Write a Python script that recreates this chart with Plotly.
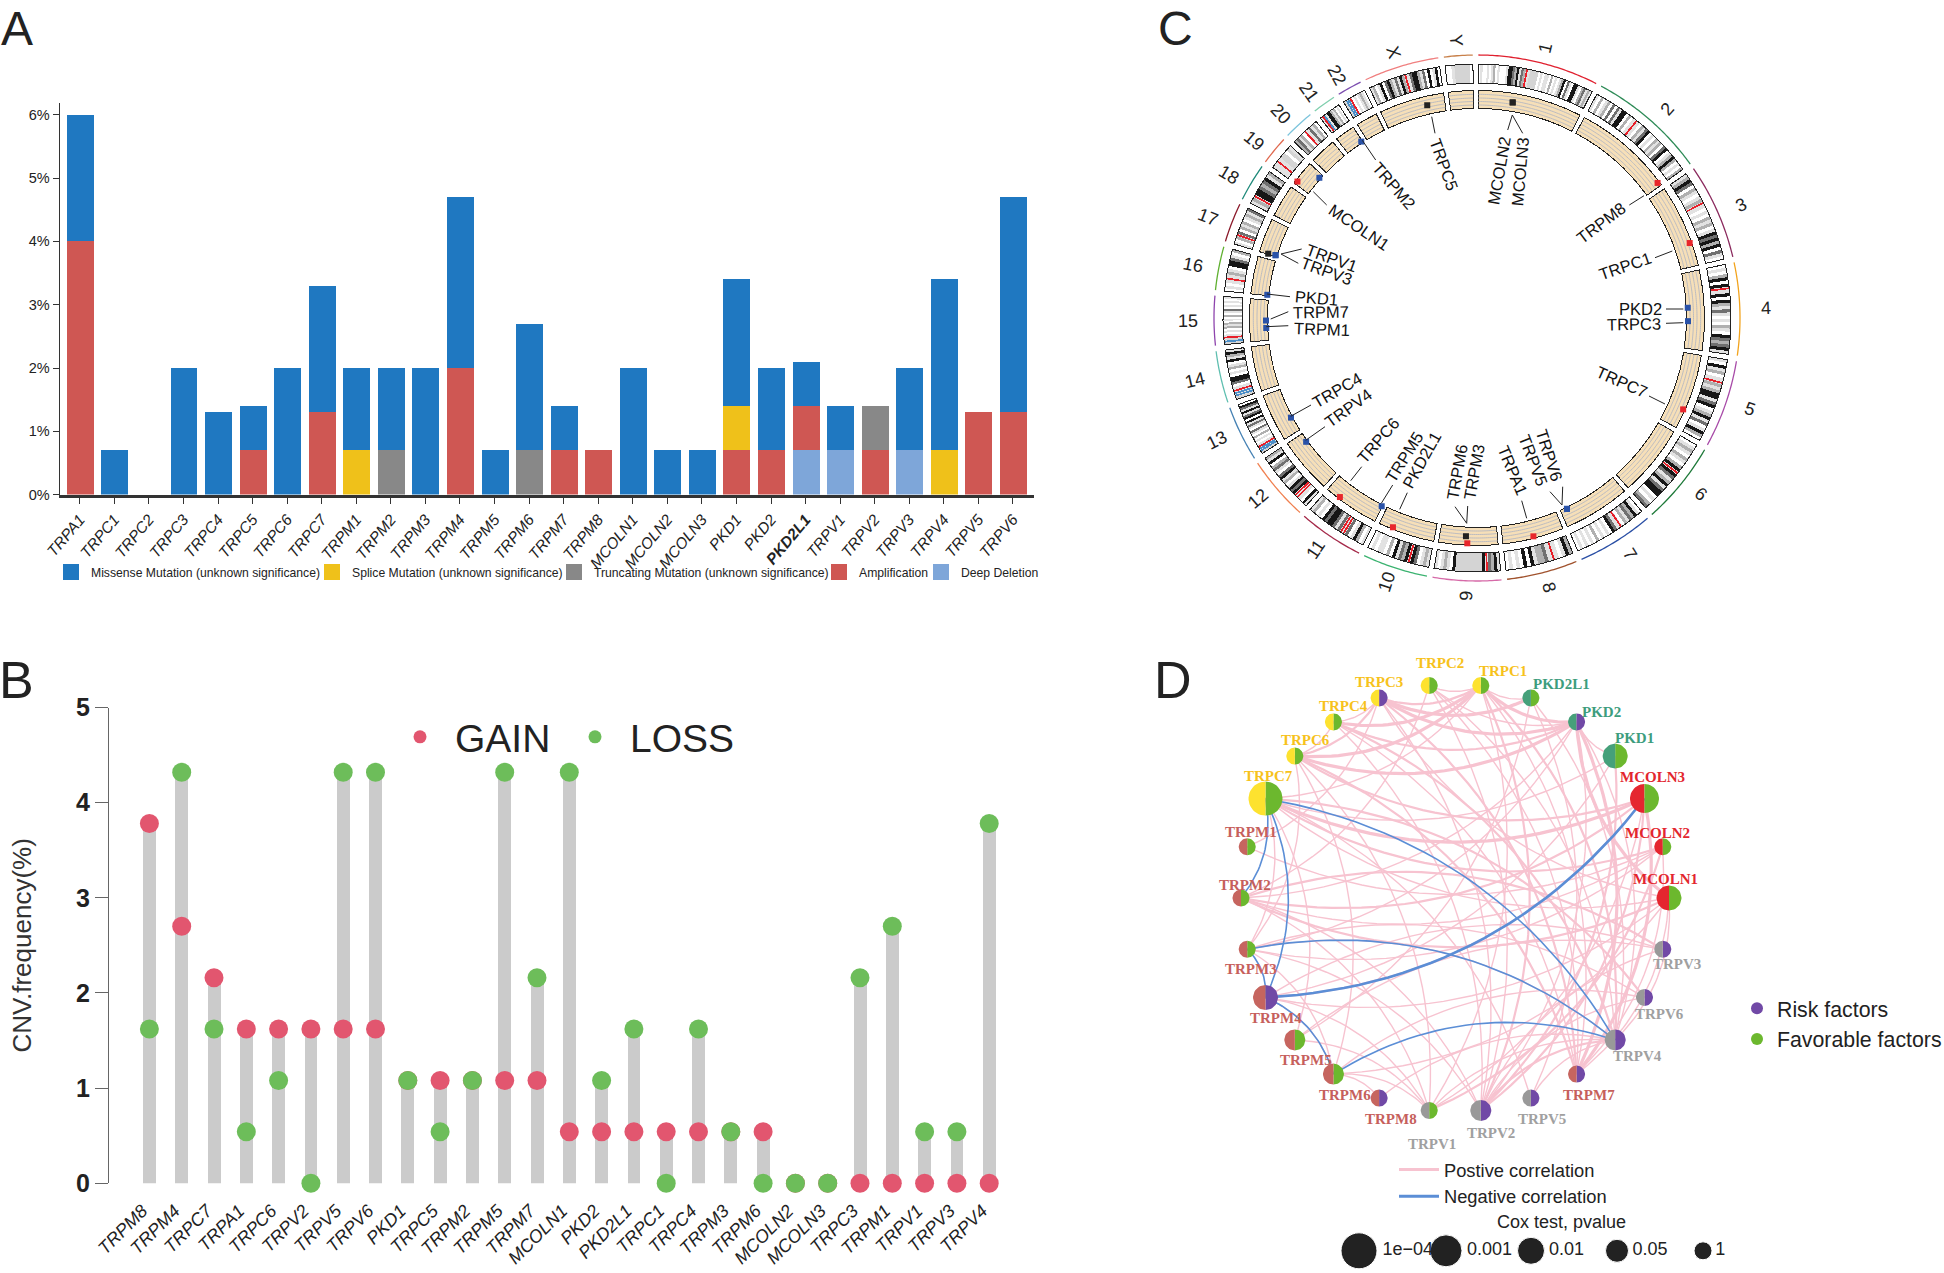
import numpy as np
import plotly.graph_objects as go

W, H = 1944, 1273
FONT = "Liberation Sans"
SERIF = "Liberation Serif"

# ---------- Panel A ----------
A_GENES = ["TRPA1","TRPC1","TRPC2","TRPC3","TRPC4","TRPC5","TRPC6","TRPC7","TRPM1","TRPM2","TRPM3","TRPM4","TRPM5","TRPM6","TRPM7","TRPM8","MCOLN1","MCOLN2","MCOLN3","PKD1","PKD2","PKD2L1","TRPV1","TRPV2","TRPV3","TRPV4","TRPV5","TRPV6"]
A_MISSENSE = [2,.7,0,2,1.3,.7,2,2,1.3,1.3,2,2.7,.7,2,.7,0,2,.7,.7,2,1.3,.7,.7,0,1.3,2.7,0,3.4]
A_SPLICE   = [0,0,0,0,0,0,0,0,.7,0,0,0,0,0,0,0,0,0,0,.7,0,0,0,0,0,.7,0,0]
A_TRUNC    = [0,0,0,0,0,0,0,0,0,.7,0,0,0,.7,0,0,0,0,0,0,0,0,0,.7,0,0,0,0]
A_AMP      = [4,0,0,0,0,.7,0,1.3,0,0,0,2,0,0,.7,.7,0,0,0,.7,.7,.7,0,.7,0,0,1.3,1.3]
A_DEEP     = [0,0,0,0,0,0,0,0,0,0,0,0,0,0,0,0,0,0,0,0,0,.7,.7,0,.7,0,0,0]
A_YTICKS = [0,1,2,3,4,5,6]
A_YLABELS = ["0%","1%","2%","3%","4%","5%","6%"]

# ---------- Panel B ----------
B_GENES = ["TRPM8","TRPM4","TRPC7","TRPA1","TRPC6","TRPV2","TRPV5","TRPV6","PKD1","TRPC5","TRPM2","TRPM5","TRPM7","MCOLN1","PKD2","PKD2L1","TRPC1","TRPC4","TRPM3","TRPM6","MCOLN2","MCOLN3","TRPC3","TRPM1","TRPV1","TRPV3","TRPV4"]
B_GAIN = [3.78,2.7,2.16,1.62,1.62,1.62,1.62,1.62,1.08,1.08,1.08,1.08,1.08,.54,.54,.54,.54,.54,.54,.54,0,0,0,0,0,0,0]
B_LOSS = [1.62,4.32,1.62,.54,1.08,0,4.32,4.32,1.08,.54,1.08,4.32,2.16,4.32,1.08,1.62,0,1.62,.54,0,0,0,2.16,2.7,.54,.54,3.78]

# ---------- Panel C ----------
CHR_NAMES = [str(i) for i in range(1,23)] + ["X","Y"]
CHR_LEN = [249,243,198,191,181,171,159,146,141,135,135,133,115,107,102,90,81,78,59,63,48,51,155,59]
CHR_COL = ["#e0202f","#2e8b57","#8b2a5e","#f2a31c","#a84ba8","#1f7a3a","#2a4fa5","#a0522d","#d66aa8","#3cb371","#a52a4a","#f08050","#4682b4","#5fbfb0","#8e44ad","#5fb030","#8b1a2b","#1f8a7a","#e06a50","#7cc4dc","#80cfae","#7d4fb0","#f08080","#c8804a"]
CHR_BANDS = ["0100101201000144324132r1cccc01011020101240310441023121",
 "10201203031440201r102134010212034012420102",
 "1243021012r101021201434240310",
 "0102404r14042131010210432341",
 "1041201r2124413401241301420",
 "0121021024r43124134401023",
 "01423120r1340101020101010",
 "24101r1322140401010",
 "1423r4ccccccccc4012101",
 "121034r4231402011010",
 "1024103rr313443401021",
 "1401rr43410214301320412",
 "cbbr1010201301314043141340",
 "cbbr1034401021041241",
 "cbcr10102120102013010101",
 "0101r1210443102",
 "102r3021201213",
 "12r44323412",
 "11r1cc0c1",
 "23120r13120",
 "1rb144212010",
 "cbbr0101210",
 "12014034213142r1344213040140",
 "001ccccc0"]
BAND_COL = {"0":"#ffffff","1":"#e2e2e2","2":"#b0b0b0","3":"#707070","4":"#161616","c":"#d4d4d4","r":"#e8202a","b":"#4c8fc8"}
# gene, chromosome index, position in Mb, kind
C_GENE = ["MCOLN2","MCOLN3","TRPM8","TRPC1","PKD2","TRPC3","TRPC7","TRPV6","TRPV5","TRPA1","TRPM6","TRPM3","PKD2L1","TRPM5","TRPC6","TRPV4","TRPC4","TRPM1","TRPM7","PKD1","TRPV1","TRPV3","TRPV2","TRPM4","MCOLN1","TRPM2","TRPC5"]
C_CHR  = [1,1,2,3,4,4,5,7,7,8,9,9,10,11,11,12,13,15,15,16,17,17,17,19,19,21,23]
C_POS  = [85,85,234,142,88,122,135,142,142,72,77,73,102,2,101,110,38,31,50,2,4,3,1.5,49,7.6,45,111]
C_KIND = ["k","k","r","r","b","b","r","b","b","r","k","r","r","b","r","b","b","b","b","b","b","b","k","b","r","b","k"]
KIND_COL = {"k":"#222222","r":"#e8262c","b":"#2a52a8"}
KIND_R = {"k":218.5,"r":225.5,"b":211}
# gene labels: text, centre x, centre y, angle, leader end points
C_LAB = [("MCOLN2",1499,171,-80),("MCOLN3",1520,172,-85),("TRPM8",1600.7,222.7,-37),("TRPC1",1625,266,-19),("PKD2",1640,309,0),("TRPC3",1634,324,-1),
 ("TRPC7",1622.3,381.7,24),("TRPV6",1549.3,455,72),("TRPV5",1533.3,460,69),("TRPA1",1512.7,470,67),("TRPM3",1474,472,-80),("TRPM6",1457,472,-80),
 ("PKD2L1",1421.7,460,-61),("TRPM5",1404,456.7,-58),("TRPC6",1378.3,440,-49),("TRPV4",1348.3,408.3,-36),("TRPC4",1337.3,390,-30),("TRPM1",1321.7,329.3,2),
 ("TRPM7",1321,312.3,-1),("PKD1",1316,298.3,5),("TRPV3",1326.7,271,20),("TRPV1",1331.7,258.3,20),("MCOLN1",1359,226.7,34),("TRPM2",1394.3,186,49),("TRPC5",1443.7,164.3,70)]
C_LEAD = [(1512.3,115,1507.7,130),(1512.3,115,1522.7,133.3),(1644,195.7,1629.3,205),(1672.3,251,1655,257.7),(1683.3,309,1666,309),(1683.3,322.7,1666,323.3),
 (1665,404,1649,396),(1562,505,1562.7,486.7),(1562,505,1550,491.7),(1526.7,518.3,1521.7,500.7),(1466.7,523.3,1467.7,506),(1466.7,523.3,1455,506.7),
 (1399.7,509.3,1407.3,492.7),(1381.3,503.3,1392.7,485),(1350.7,480.7,1361.7,466.7),(1305.7,440.3,1325,426.7),(1290.7,416.3,1311,405),(1266.3,326.7,1288.3,325.7),
 (1270.7,319,1288.3,311.7),(1267,294,1290,296.7),(1281,254,1301.7,249),(1281,254,1298.3,263.3),(1313.3,191.7,1326.7,205),(1362.3,140.3,1375.7,160),(1431.7,116.7,1435,133.3)]

# ---------- Panel D ----------
D_NODES = ["MCOLN1","MCOLN2","MCOLN3","PKD1","PKD2","PKD2L1","TRPC1","TRPC2","TRPC3","TRPC4","TRPC6","TRPC7","TRPM1","TRPM2","TRPM3","TRPM4","TRPM5","TRPM6","TRPM8","TRPV1","TRPV2","TRPV5","TRPM7","TRPV4","TRPV6","TRPV3"]
D_RISK = ["PKD2","TRPC3","TRPM4","TRPM8","TRPM7","TRPV2","TRPV5","TRPV4","TRPV6","TRPV3"]
D_PCLASS = [2,4,1,2,4,4,4,4,4,4,4,0,4,4,4,2,3,3,4,4,3,4,4,3,4,4]
P_LABELS = ["1e\u221204","0.001","0.01","0.05","1"]
P_DIAM = [34,29,25,21,17]
P_LEG_DIAM = [36,32,27,23,18]
D_LABZ = {"TRPC1":(650,77),"TRPC2":(520,57),"TRPC3":(394,103),"TRPC4":(320,163),"TRPC6":(241,248),"TRPC7":(163,337),"PKD2L1":(772,110),"PKD2":(856,178),"PKD1":(925,242),"MCOLN3":(963,340),"MCOLN2":(973,478),"MCOLN1":(988,593),"TRPM1":(126,475),"TRPM2":(114,607),"TRPM3":(127,816),"TRPM4":(179,937),"TRPM5":(242,1040),"TRPM6":(322,1128),"TRPM8":(418,1187),"TRPV1":(503,1249),"TRPV2":(626,1220),"TRPV5":(732,1187),"TRPM7":(829,1128),"TRPV4":(930,1031),"TRPV6":(976,926),"TRPV3":(1013,803)}
GROUP_COL = {"TRPC":"#fde22f","TRPM":"#c6655f","TRPV":"#999999","PKD":"#46a07a","MCOLN":"#e5262f"}
LABEL_COL = {"TRPC":"#f7c21c","TRPM":"#c6605c","TRPV":"#a0a0a0","PKD":"#3d9d7d","MCOLN":"#e3262e"}
EDGE_THICK = [("PKD2","TRPC3"),("PKD2","TRPC6"),("TRPC1","PKD2"),("TRPC1","TRPC4"),("TRPC1","TRPC6"),("TRPC7","MCOLN3"),("PKD2","MCOLN1"),("PKD2","TRPM7"),("MCOLN3","TRPM7"),("TRPC3","PKD2L1")]
EDGE_MID = [("PKD2","TRPC4"),("TRPC1","TRPC3"),("TRPC6","MCOLN3"),("TRPC7","MCOLN2"),("MCOLN3","TRPM2"),("TRPC3","TRPM7"),("TRPC1","TRPV2"),("TRPC1","TRPV4"),("TRPC6","TRPC3"),("PKD1","TRPV2"),("MCOLN3","TRPV2"),("MCOLN3","TRPM4"),("TRPV2","TRPV4"),("TRPV1","MCOLN2"),("TRPC4","TRPV4"),("MCOLN1","TRPM2"),("TRPC6","TRPM7"),("TRPM2","TRPV3"),("TRPC7","TRPV6")]
EDGE_THIN = [("TRPC2","PKD2"),("TRPC2","TRPV2"),("TRPC2","TRPV4"),("TRPC2","TRPM2"),("TRPC2","TRPM7"),("TRPC2","TRPC1"),("TRPC1","TRPM7"),("TRPC1","TRPV1"),("TRPC1","TRPC7"),("PKD2L1","TRPV4"),("PKD2L1","TRPM5"),("PKD2L1","TRPC1"),("PKD2","PKD1"),("PKD2","TRPV4"),("PKD2","TRPM2"),("PKD2","TRPM3"),("PKD1","TRPM4"),("PKD1","TRPC7"),("MCOLN2","TRPM1"),("MCOLN2","TRPM3"),("MCOLN2","TRPM7"),("MCOLN1","TRPM6"),("MCOLN1","TRPM7"),("MCOLN1","TRPV4"),("MCOLN1","TRPC7"),("MCOLN1","TRPM4"),("TRPC3","MCOLN1"),("TRPC3","TRPV2"),("TRPC3","TRPM1"),("TRPC4","TRPC3"),("TRPC4","TRPC6"),("TRPC4","TRPM7"),("TRPC4","TRPV2"),("TRPC6","TRPM6"),("TRPC6","TRPV1"),("TRPC6","TRPM3"),("TRPC7","TRPM3"),("TRPC7","TRPM5"),("TRPC7","TRPV5"),("TRPM2","TRPV2"),("TRPM2","TRPV1"),("TRPM2","MCOLN2"),("TRPM3","TRPV6"),("TRPM3","TRPV4"),("TRPM3","TRPV2"),("TRPM3","TRPM6"),("TRPM4","TRPV1"),("TRPM4","TRPM6"),("TRPM4","TRPV3"),("TRPM5","TRPV3"),("TRPM5","TRPV1"),("TRPM6","TRPV6"),("TRPM6","TRPV1"),("TRPM8","TRPV4"),("TRPM8","TRPM6"),("TRPV1","TRPV4"),("TRPV2","TRPV6"),("TRPV2","TRPV3"),("TRPV5","TRPV4"),("TRPV5","PKD2L1"),("TRPV1","MCOLN3"),("TRPV2","PKD2")]
EDGE_NEG = [("TRPC7","TRPM2"),("TRPC7","TRPM4"),("TRPC7","TRPV4"),("TRPM3","TRPM4"),("TRPM3","TRPV4"),("TRPM4","TRPM6"),("TRPM6","TRPV4")]
EDGE_NEG_THICK = [("TRPM4","MCOLN3")]

# ---------- helpers ----------
def dx(a, b): return [a/W, b/W]
def dy(a, b): return [1-b/H, 1-a/H]

annotations, shapes = [], []
def ann(text, x, y, size, color="#111", angle=0, family=FONT, xanchor="center"):
    annotations.append(dict(text=text, x=x/W, y=1-y/H, xref="paper", yref="paper", showarrow=False,
                            font=dict(size=size, color=color, family=family), textangle=angle,
                            xanchor=xanchor, yanchor="middle"))

fig = go.Figure()

# --- A: stacked bars
A_SERIES = [("Deep Deletion",A_DEEP,"#7ea6d9"),("Amplification",A_AMP,"#cf5753"),
            ("Truncating Mutation (unknown significance)",A_TRUNC,"#888888"),
            ("Splice Mutation (unknown significance)",A_SPLICE,"#efc11a"),
            ("Missense Mutation (unknown significance)",A_MISSENSE,"#1f78c1")]
A_LEG_NAME = ["legend8","legend7","legend6","legend5","legend"]
A_LEG_X = [921,819,554,312,51]
for (name, vals, col), lg in zip(A_SERIES, A_LEG_NAME):
    fig.add_trace(go.Bar(x=list(range(len(A_GENES))), y=vals, name=name, marker=dict(color=col, line=dict(width=0)),
                         width=0.78, xaxis="x", yaxis="y", showlegend=False))
    fig.add_trace(go.Scatter(x=[None], y=[None], mode="markers", name=name, marker=dict(symbol="square", size=17, color=col),
                             xaxis="x", yaxis="y", legend=lg))
a_x0, a_sp = 79.8, 34.56
a_ticks = ["<b>%s</b>" % g if g == "PKD2L1" else g for g in A_GENES]

# --- B: gain / loss lollipops
b_top = [max(g, l) for g, l in zip(B_GAIN, B_LOSS)]
b_idx = list(range(len(B_GENES)))
fig.add_trace(go.Bar(x=b_idx, y=b_top, width=0.4, marker=dict(color="#cbcbcb", line=dict(width=0)), showlegend=False, xaxis="x2", yaxis="y2"))
fig.add_trace(go.Scatter(x=b_idx, y=B_GAIN, mode="markers", marker=dict(size=19, color="#e2566f", opacity=1), showlegend=False, cliponaxis=False, xaxis="x2", yaxis="y2"))
fig.add_trace(go.Scatter(x=b_idx, y=B_LOSS, mode="markers", marker=dict(size=19, color="#6dbd5a", opacity=1), showlegend=False, cliponaxis=False, xaxis="x2", yaxis="y2"))
fig.add_trace(go.Scatter(x=[None], y=[None], mode="markers", name="GAIN", marker=dict(size=13, color="#e2566f"), xaxis="x2", yaxis="y2", legend="legend2"))
fig.add_trace(go.Scatter(x=[None], y=[None], mode="markers", name="LOSS", marker=dict(size=13, color="#6dbd5a"), xaxis="x2", yaxis="y2", legend="legend2"))
b_x0, b_sp = 149.4, 32.3
b_ticks = [g + "\u00a0\u00a0" for g in B_GENES]

# --- C: circos ring
K = 0.107; GAP = (360 - sum(CHR_LEN)*K) / len(CHR_LEN)
chr_start, t = [], 0.3
for L in CHR_LEN:
    chr_start.append(t); t += L*K + GAP
chr_span = [L*K for L in CHR_LEN]
chr_mid = [s + w/2 for s, w in zip(chr_start, chr_span)]
CX, CY, RMAX = 1477, 318, 300

band_t, band_w, band_c = [], [], []
line_t, line_c = [], []
for s, w, code in zip(chr_start, chr_span, CHR_BANDS):
    bw = w/len(code)
    for i, ch in enumerate(code):
        if ch in "rb":
            line_t.append(s + (i+.5)*bw); line_c.append(BAND_COL[ch])
            band_t.append(s + (i+.5)*bw); band_w.append(bw*1.02); band_c.append(BAND_COL["1"])
        else:
            band_t.append(s + (i+.5)*bw); band_w.append(bw*1.02); band_c.append(BAND_COL[ch])
fig.add_trace(go.Barpolar(theta=band_t, width=band_w, base=[235]*len(band_t), r=[19]*len(band_t),
                          marker=dict(color=band_c, line=dict(width=0)), showlegend=False, subplot="polar"))
fig.add_trace(go.Barpolar(theta=line_t, width=[0.42]*len(line_t), base=[235]*len(line_t), r=[19]*len(line_t),
                          marker=dict(color=line_c, line=dict(width=0)), showlegend=False, subplot="polar"))
fig.add_trace(go.Barpolar(theta=chr_mid, width=chr_span, base=[235]*24, r=[19]*24,
                          marker=dict(color="rgba(0,0,0,0)", line=dict(color="#222", width=1)), showlegend=False, subplot="polar"))
fig.add_trace(go.Barpolar(theta=chr_mid, width=chr_span, base=[209.5]*24, r=[18]*24,
                          marker=dict(color="#f6dfb8", line=dict(color="#222", width=1)), showlegend=False, subplot="polar"))
g_t, g_r = [], []
for s, w in zip(chr_start, chr_span):
    for rr in (213, 216.5, 220, 223.7):
        th = np.linspace(s+.1, s+w-.1, max(4, int(w*2))).tolist()
        g_t += th + [None]; g_r += [rr]*len(th) + [None]
fig.add_trace(go.Scatterpolar(theta=g_t, r=g_r, mode="lines", line=dict(color="#bcbcc0", width=1), showlegend=False, subplot="polar"))
for s, w, col in zip(chr_start, chr_span, CHR_COL):
    th = np.linspace(s, s+w, max(4, int(w*2))).tolist()
    fig.add_trace(go.Scatterpolar(theta=th, r=[263]*len(th), mode="lines", line=dict(color=col, width=1.3), showlegend=False, subplot="polar"))
gene_t = [chr_start[c-1] + p*K for c, p in zip(C_CHR, C_POS)]
for kind, col in KIND_COL.items():
    sel = [i for i, k in enumerate(C_KIND) if k == kind]
    fig.add_trace(go.Scatterpolar(theta=[gene_t[i] for i in sel], r=[KIND_R[kind]]*len(sel), mode="markers",
                                  marker=dict(symbol="square", size=6, color=col, opacity=1), text=[C_GENE[i] for i in sel],
                                  showlegend=False, subplot="polar"))
for name, th in zip(CHR_NAMES, chr_mid):
    rad = np.radians(th)
    ann(name, CX + 289*np.sin(rad), CY - 278*np.cos(rad), 18, "#222", angle=(th-90 if th < 180 else th-270))
for text, x, y, a in C_LAB:
    ann(text, x, y, 16.5, "#111", angle=a)
for x0, y0, x1, y1 in C_LEAD:
    shapes.append(dict(type="line", xref="paper", yref="paper", x0=x0/W, y0=1-y0/H, x1=x1/W, y1=1-y1/H, line=dict(color="#222", width=1)))

# --- D: network (axis units are pixels around the circle's centre)
DX, DY, DR = 1455, 898, 214
n_nodes = len(D_NODES)
ang = {n: 2*np.pi*i/n_nodes for i, n in enumerate(D_NODES)}
idx = {n: i for i, n in enumerate(D_NODES)}
pos = {n: (DR*np.cos(a), DR*np.sin(a)) for n, a in ang.items()}

def curve_xy(edges):
    xs, ys = [], []
    for a, b in edges:
        if idx[a] > idx[b]:
            a, b = b, a
        (x0, y0), (x1, y1) = pos[a], pos[b]
        ddx, ddy = x1-x0, y1-y0
        cx, cy = (x0+x1)/2 - 0.23*ddy, (y0+y1)/2 + 0.23*ddx
        u = np.linspace(0, 1, 30)
        xs += ((1-u)**2*x0 + 2*u*(1-u)*cx + u**2*x1).tolist() + [None]
        ys += ((1-u)**2*y0 + 2*u*(1-u)*cy + u**2*y1).tolist() + [None]
    return xs, ys

for edges, col, wd in [(EDGE_THIN,"#f7c3d0",1.4),(EDGE_MID,"#f7c3d0",2.2),(EDGE_THICK,"#f7c3d0",3.2),(EDGE_NEG,"#5b8ed6",1.6),(EDGE_NEG_THICK,"#5b8ed6",2.6)]:
    xs, ys = curve_xy(edges)
    fig.add_trace(go.Scatter(x=xs, y=ys, mode="lines", line=dict(color=col, width=wd), showlegend=False, xaxis="x3", yaxis="y3", hoverinfo="skip"))

def group(n):
    for g in ("TRPC","TRPM","TRPV","PKD","MCOLN"):
        if n.startswith(g):
            return g

polys = {}
for n, pc in zip(D_NODES, D_PCLASS):
    r = P_DIAM[pc]/2
    x0, y0 = pos[n]
    left = np.radians(np.linspace(90, 270, 24))
    right = np.radians(np.linspace(-90, 90, 24))
    lc = GROUP_COL[group(n)]
    rc = "#7149a6" if n in D_RISK else "#6cb82e"
    for th, c in ((left, lc), (right, rc)):
        p = polys.setdefault(c, ([], []))
        p[0].extend((x0 + r*np.cos(th)).tolist() + [None])
        p[1].extend((y0 + r*np.sin(th)).tolist() + [None])
    zx, zy = D_LABZ[n]
    ann("<b>%s</b>" % n, 1190 + zx/2.08, 640 + zy/2.477, 15, LABEL_COL[group(n)], family=SERIF)
for c, (xs, ys) in polys.items():
    fig.add_trace(go.Scatter(x=xs, y=ys, mode="lines", fill="toself", fillcolor=c, line=dict(width=0, color=c), showlegend=False, xaxis="x3", yaxis="y3", hoverinfo="skip"))

fig.add_trace(go.Scatter(x=[None], y=[None], mode="markers", name="Risk factors", marker=dict(size=12, color="#7149a6"), xaxis="x3", yaxis="y3", legend="legend3"))
fig.add_trace(go.Scatter(x=[None], y=[None], mode="markers", name="Favorable factors", marker=dict(size=12, color="#6cb82e"), xaxis="x3", yaxis="y3", legend="legend3"))
fig.add_trace(go.Scatter(x=[None], y=[None], mode="lines", name="Postive correlation", line=dict(color="#f7c3d0", width=3), xaxis="x3", yaxis="y3", legend="legend4"))
fig.add_trace(go.Scatter(x=[None], y=[None], mode="lines", name="Negative correlation", line=dict(color="#5b8ed6", width=3), xaxis="x3", yaxis="y3", legend="legend4"))

# size key
key_px = [1359, 1446, 1531, 1617, 1703]
fig.add_trace(go.Scatter(x=[k-DX for k in key_px], y=[DY-1250.8]*5, mode="markers+text", text=P_LABELS, textposition="middle right",
                         textfont=dict(size=18, color="#222", family=FONT),
                         marker=dict(size=P_LEG_DIAM, color="#222222", opacity=1), showlegend=False, cliponaxis=False, xaxis="x3", yaxis="y3"))
ann("Cox test, pvalue", 1561.6, 1221.7, 18, "#222")

# panel letters
for t, x, y in [("A",17,28),("B",16,680),("C",1175,28),("D",1173,680)]:
    ann(t, x, y, 48 if y < 100 else 52, "#222")

a_leg = dict(orientation="h", xanchor="left", yanchor="middle", font=dict(size=12.2, color="#222"), bgcolor="rgba(0,0,0,0)")
fig.update_layout(
    width=W, height=H, margin=dict(l=0, r=0, t=0, b=0, autoexpand=False), autosize=False,
    paper_bgcolor="white", plot_bgcolor="white", barmode="stack", bargap=0,
    font=dict(family=FONT, color="#222"), hovermode=False,
    xaxis=dict(anchor="y", automargin=False, domain=dx(59.5,1034), range=[(59.5-a_x0)/a_sp,(1034-a_x0)/a_sp], tickmode="array", tickvals=list(range(len(A_GENES))), ticktext=a_ticks,
               tickangle=-50, tickfont=dict(size=15.5, style="italic", color="#222"), ticks="outside", ticklen=7, tickcolor="#333", showline=True, linecolor="#333", linewidth=2.5, showgrid=False, zeroline=False, fixedrange=True),
    yaxis=dict(anchor="x", automargin=False, domain=dy(103,494.6), range=[0,(494.6-103)/63.3], tickmode="array", tickvals=A_YTICKS, ticktext=A_YLABELS, tickfont=dict(size=14.5, color="#222"),
               ticks="outside", ticklen=6, tickcolor="#333", showline=True, linecolor="#333", linewidth=1, showgrid=False, zeroline=False, fixedrange=True),
    xaxis2=dict(anchor="y2", automargin=False, domain=dx(108.9,1010), range=[(108.9-b_x0)/b_sp,(1010-b_x0)/b_sp], tickmode="array", tickvals=b_idx, ticktext=b_ticks, tickangle=-45,
                tickfont=dict(size=18, style="italic", color="#222"), ticks="outside", ticklen=2, tickcolor="rgba(0,0,0,0)", showline=False, showgrid=False, zeroline=False, fixedrange=True),
    yaxis2=dict(anchor="x2", automargin=False, domain=dy(707.5,1183.2), range=[0,5], tickvals=[0,1,2,3,4,5], tickfont=dict(size=25, color="#222", weight="bold"), ticks="outside", ticklen=13, tickcolor="#666",
                showline=True, linecolor="#666", linewidth=1, showgrid=False, zeroline=False, fixedrange=True,
                title=dict(text="CNV.frequency(%)", font=dict(size=26, color="#333"), standoff=36)),
    xaxis3=dict(anchor="y3", automargin=False, domain=dx(1200,1944), range=[1200-DX,1944-DX], visible=False, fixedrange=True),
    yaxis3=dict(anchor="x3", automargin=False, domain=dy(640,1273), range=[DY-1273,DY-640], visible=False, fixedrange=True),
    polar=dict(domain=dict(x=dx(CX-RMAX,CX+RMAX), y=dy(CY-RMAX,CY+RMAX)), bgcolor="rgba(0,0,0,0)",
               radialaxis=dict(range=[0,RMAX], visible=False), angularaxis=dict(visible=False, direction="clockwise", rotation=90)),
    legend=dict(a_leg, x=A_LEG_X[4]/W, y=1-572/H),
    legend5=dict(a_leg, x=A_LEG_X[3]/W, y=1-572/H),
    legend6=dict(a_leg, x=A_LEG_X[2]/W, y=1-572/H),
    legend7=dict(a_leg, x=A_LEG_X[1]/W, y=1-572/H),
    legend8=dict(a_leg, x=A_LEG_X[0]/W, y=1-572/H),
    legend2=dict(orientation="h", x=385/W, y=1-737/H, xanchor="left", yanchor="middle", font=dict(size=39, color="#222"), bgcolor="rgba(0,0,0,0)", itemwidth=60, entrywidth=100, entrywidthmode="pixels"),
    legend3=dict(x=1737/W, y=1-1024/H, xanchor="left", yanchor="middle", font=dict(size=21.3, color="#222"), bgcolor="rgba(0,0,0,0)"),
    legend4=dict(x=1394/W, y=1-1183/H, xanchor="left", yanchor="middle", font=dict(size=18.3, color="#222"), bgcolor="rgba(0,0,0,0)", itemwidth=40),
    annotations=annotations, shapes=shapes,
)
fig.write_html("out.html", config=dict(displayModeBar=False), post_script="document.body.style.margin='0';")
